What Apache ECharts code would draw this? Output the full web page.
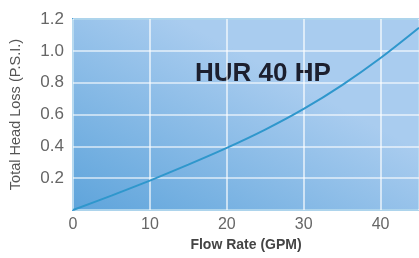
<!DOCTYPE html>
<html>
<head>
<meta charset="utf-8">
<script src="https://cdn.jsdelivr.net/npm/echarts@6/dist/echarts.min.js"></script>
<style>
	html, body { margin: 0; padding: 0; background: #fff; }
	#chart { width: 419px; height: 258px; }
</style>
</head>
<body>
<div id="chart"></div>
<script>
	// flow rate (GPM) vs head loss (PSI)
	const flowRate = [0, 5, 10, 15, 20, 25, 30, 35, 40, 45];
	const headLoss = [0, 0.09, 0.185, 0.285, 0.39, 0.505, 0.635, 0.785, 0.955, 1.145];
	const xTicks = [0, 10, 20, 30, 40];
	const yTicks = [0.2, 0.4, 0.6, 0.8, 1.0, 1.2];

	const chart = echarts.init(document.getElementById('chart'));

	const option = {
		animation: false,
		grid: {
			left: 72,
			top: 19,
			bottom: 48,
			right: -4,
			show: true,
			borderColor: '#4ba0d6',
			borderWidth: 2,
			backgroundColor: new echarts.graphic.LinearGradient(0, 1, 0.3, 0, [
				{ offset: 0, color: '#5ea4db' },
				{ offset: 1, color: '#a9ccef' }
			])
		},
		xAxis: {
			type: 'value',
			min: 0,
			max: 45,
			interval: 10,
			name: 'Flow Rate (GPM)',
			nameLocation: 'middle',
			nameGap: 27,
			nameTextStyle: { fontFamily: 'Liberation Sans', fontWeight: 'bold', fontSize: 14, color: '#444' },
			axisLine: { show: false },
			axisTick: { show: false },
			axisLabel: {
				showMaxLabel: false,
				margin: 7,
				fontFamily: 'Liberation Sans', fontSize: 16, color: '#666',
				formatter: v => xTicks.includes(v) ? String(v) : ''
			},
			splitLine: { lineStyle: { color: 'rgba(255,255,255,0.6)', width: 2 } }
		},
		yAxis: {
			type: 'value',
			min: 0,
			max: 1.2,
			interval: 0.2,
			name: 'Total Head Loss (P.S.I.)',
			nameLocation: 'middle',
			nameGap: 50,
			nameTextStyle: { fontFamily: 'Liberation Sans', fontSize: 14.5, color: '#555' },
			axisLine: { show: false },
			axisTick: { show: false },
			axisLabel: {
				showMinLabel: false,
				margin: 9,
				fontFamily: 'Liberation Sans', fontSize: 17, color: '#666',
				formatter: v => {
					const t = yTicks.find(y => Math.abs(y - v) < 1e-6);
					return t === undefined ? '' : t.toFixed(1);
				}
			},
			splitLine: { lineStyle: { color: 'rgba(255,255,255,0.55)', width: 2 } }
		},
		graphic: [{
			type: 'text',
			left: 195,
			top: 61,
			style: {
				text: 'HUR 40 HP',
				font: 'bold 26px "Liberation Sans"',
				fill: '#1c1f2e'
			}
		}],
		series: [{
			type: 'line',
			data: flowRate.map((x, i) => [x, headLoss[i]]),
			smooth: 0.3,
			showSymbol: false,
			lineStyle: { color: '#2f97cc', width: 2 }
		}]
	};

	chart.setOption(option);
</script>
</body>
</html>
